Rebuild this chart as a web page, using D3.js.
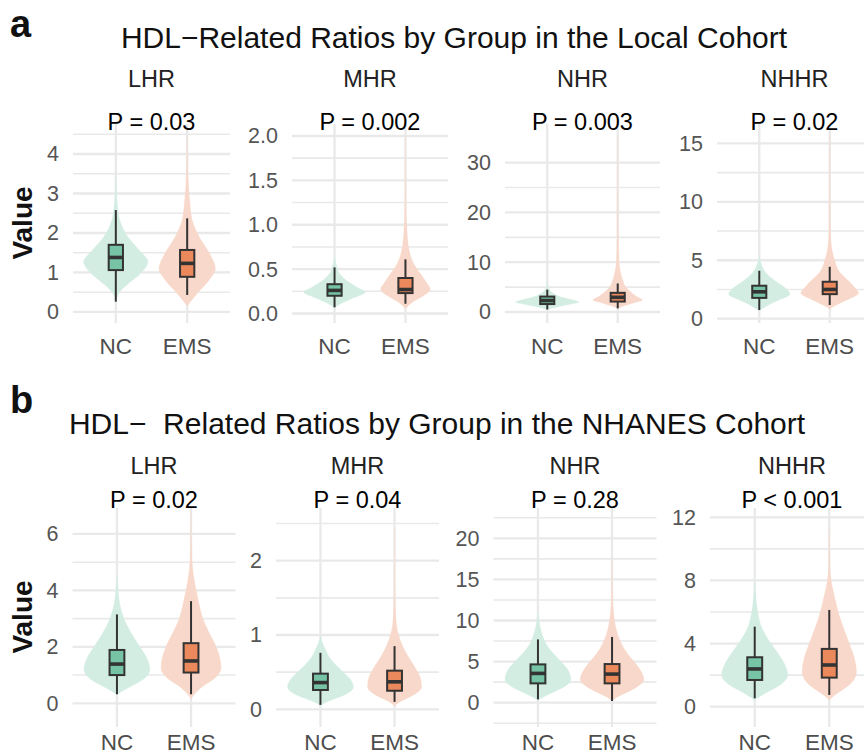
<!DOCTYPE html>
<html>
<head>
<meta charset="utf-8">
<script src="https://cdn.jsdelivr.net/npm/d3@7"></script>
<style>
  body { margin: 0; background: #fff; }
  svg { font-family: "Liberation Sans", Arial, Helvetica, sans-serif; }
</style>
</head>
<body>
<svg id="chart" width="864" height="756"></svg>
<script>
'use strict';

// ---- data ----
const groups = ['NC', 'EMS'];
const ratios = ['LHR', 'MHR', 'NHR', 'NHHR'];
const cohortLetters = ['a', 'b'];
const cohortTitles = [
    'HDL\u2212Related Ratios by Group in the Local Cohort',
    'HDL\u2212  Related Ratios by Group in the NHANES Cohort'
];
const pLabelsLocal = ['P = 0.03', 'P = 0.002', 'P = 0.003', 'P = 0.02'];
const pLabelsNhanes = ['P = 0.02', 'P = 0.04', 'P = 0.28', 'P < 0.001'];

// free y limits of each panel
const yLimitsLocal = [[-0.28, 4.76], [-0.107, 2.135], [-2.21, 37.77], [-0.37, 16.66]];
const yLimitsNhanes = [[-0.84, 6.92], [-0.238, 2.709], [-2.96, 23.69], [-1.29, 12.59]];

const yTicksLocal = [[0, 1, 2, 3, 4], [0, 0.5, 1, 1.5, 2], [0, 10, 20, 30], [0, 5, 10, 15]];
const yTickLabelsLocal = [['0', '1', '2', '3', '4'], ['0.0', '0.5', '1.0', '1.5', '2.0'],
                          ['0', '10', '20', '30'], ['0', '5', '10', '15']];
const yMinorLocal = [[0.5, 1.5, 2.5, 3.5, 4.5], [0.25, 0.75, 1.25, 1.75], [5, 15, 25], [2.5, 7.5, 12.5]];

const yTicksNhanes = [[0, 2, 4, 6], [0, 1, 2], [0, 5, 10, 15, 20], [0, 4, 8, 12]];
const yTickLabelsNhanes = [['0', '2', '4', '6'], ['0', '1', '2'],
                           ['0', '5', '10', '15', '20'], ['0', '4', '8', '12']];
const yMinorNhanes = [[1, 3, 5], [0.5, 1.5, 2.5], [-2.5, 2.5, 7.5, 12.5, 17.5, 22.5], [2, 6, 10]];

// boxes: [lower whisker, q1, median, q3, upper whisker], NC then EMS
const boxesLocal = [
    [[0.26, 1.06, 1.38, 1.70, 2.58], [0.43, 0.89, 1.23, 1.57, 2.37]],
    [[0.07, 0.20, 0.26, 0.33, 0.52], [0.11, 0.23, 0.27, 0.40, 0.61]],
    [[0.5, 1.6, 2.3, 3.1, 4.5], [0.73, 2.1, 2.95, 3.85, 5.73]],
    [[0.74, 1.78, 2.3, 2.82, 4.1], [1.17, 2.1, 2.5, 3.16, 4.44]]
];
const boxesNhanes = [
    [[0.32, 1.0, 1.39, 1.89, 3.15], [0.32, 1.09, 1.5, 2.13, 3.62]],
    [[0.06, 0.26, 0.36, 0.48, 0.76], [0.1, 0.25, 0.37, 0.52, 0.85]],
    [[0.4, 2.35, 3.56, 4.66, 7.7], [0.2, 2.35, 3.48, 4.7, 8.0]],
    [[0.53, 1.69, 2.39, 3.13, 5.07], [0.74, 1.84, 2.64, 3.66, 6.13]]
];

// violin outlines: [value, width as share of the category step], NC then EMS
const violinsLocal = [
    [[[3.5, 0], [3.0, 0.02], [2.75, 0.04], [2.33, 0.11], [1.9, 0.34], [1.57, 0.65], [1.27, 0.9],
      [0.98, 0.7], [0.73, 0.37], [0.47, 0.08], [0.26, 0]],
     [[4.45, 0], [3.5, 0.02], [2.84, 0.07], [2.33, 0.14], [1.9, 0.34], [1.49, 0.62], [1.1, 0.79],
      [0.81, 0.62], [0.47, 0.28], [0.22, 0.06], [0.15, 0]]],
    [[[0.64, 0], [0.55, 0.05], [0.45, 0.14], [0.38, 0.31], [0.3, 0.62], [0.24, 0.87], [0.18, 0.56],
      [0.12, 0.23], [0.07, 0.03], [0.05, 0]],
     [[2.0, 0], [1.2, 0.015], [0.9, 0.05], [0.7, 0.11], [0.55, 0.25], [0.45, 0.42], [0.35, 0.59],
      [0.27, 0.7], [0.2, 0.51], [0.14, 0.25], [0.08, 0.06], [0.05, 0]]],
    [[[6, 0], [5, 0.03], [4.3, 0.08], [3.5, 0.23], [3, 0.39], [2.5, 0.68], [2, 0.9], [1.5, 0.62],
      [1.1, 0.34], [0.7, 0.11], [0.5, 0]],
     [[35, 0], [15, 0.015], [10, 0.04], [8, 0.08], [6.5, 0.14], [5, 0.23], [4, 0.37], [3, 0.56],
      [2.4, 0.7], [1.8, 0.45], [1.2, 0.17], [0.7, 0]]],
    [[[5.3, 0], [4.5, 0.08], [4, 0.17], [3.5, 0.34], [3, 0.56], [2.5, 0.79], [2.1, 0.87], [1.6, 0.56],
      [1.2, 0.28], [0.8, 0.06], [0.7, 0]],
     [[16, 0], [8, 0.015], [6, 0.06], [5, 0.14], [4, 0.28], [3.3, 0.51], [2.7, 0.7], [2.2, 0.82],
      [1.7, 0.56], [1.3, 0.28], [1.0, 0.08], [0.8, 0]]]
];
const violinsNhanes = [
    [[[4.5, 0], [4, 0.03], [3.5, 0.08], [3, 0.19], [2.5, 0.38], [2, 0.62], [1.6, 0.81], [1.2, 0.89],
      [0.9, 0.76], [0.6, 0.38], [0.4, 0.11], [0.3, 0]],
     [[6.8, 0], [5.5, 0.015], [4.7, 0.05], [4, 0.14], [3.5, 0.22], [3, 0.32], [2.5, 0.49], [2, 0.68],
      [1.6, 0.78], [1.24, 0.81], [0.9, 0.65], [0.6, 0.32], [0.3, 0.08], [0.15, 0]]],
    [[[1.0, 0], [0.9, 0.05], [0.8, 0.14], [0.7, 0.24], [0.6, 0.41], [0.5, 0.62], [0.4, 0.81], [0.3, 0.89],
      [0.2, 0.68], [0.12, 0.27], [0.06, 0.03], [0.04, 0]],
     [[2.45, 0], [1.6, 0.01], [1.2, 0.04], [1.0, 0.11], [0.85, 0.22], [0.7, 0.38], [0.55, 0.57],
      [0.42, 0.7], [0.3, 0.73], [0.2, 0.54], [0.12, 0.22], [0.06, 0.03], [0.04, 0]]],
    [[[11, 0], [10, 0.03], [9, 0.07], [8, 0.14], [7, 0.24], [6, 0.41], [5, 0.62], [4, 0.81], [2.8, 0.89],
      [2, 0.73], [1.2, 0.38], [0.6, 0.11], [0.3, 0]],
     [[17.7, 0], [13, 0.015], [11, 0.04], [9, 0.11], [7.5, 0.22], [6, 0.41], [5, 0.59], [4, 0.76],
      [2.8, 0.86], [2, 0.7], [1.2, 0.38], [0.6, 0.11], [0.2, 0]]],
    [[[8, 0], [7, 0.03], [6, 0.08], [5, 0.19], [4.2, 0.38], [3.5, 0.59], [2.8, 0.78], [2, 0.89],
      [1.4, 0.7], [0.9, 0.32], [0.5, 0.05], [0.4, 0]],
     [[11.2, 0], [9, 0.015], [8, 0.05], [7, 0.14], [6, 0.24], [5, 0.38], [4, 0.54], [3, 0.68],
      [2.2, 0.73], [1.5, 0.59], [1, 0.32], [0.6, 0.08], [0.4, 0]]]
];

// ---- look ----
const violinFill = ['#d4ede3', '#f8d8ca'];
const boxFill = ['#76c4a5', '#eb895d'];
const ink = '#333333';
const gridCol = '#e9e9e9';

const rows = [
    {top: 124, bottom: 323,
     xs: [[73, 230], [292, 448], [505, 660], [717, 872]],
     letterY: 37, titleX: 454, titleY: 48, stripY: 87, pY: 130, catY: 354, valueY: 223,
     limits: yLimitsLocal, ticks: yTicksLocal, tickLabels: yTickLabelsLocal, minor: yMinorLocal,
     boxes: boxesLocal, violins: violinsLocal, pLabels: pLabelsLocal},
    {top: 508, bottom: 727,
     xs: [[72.5, 235.5], [276, 439], [493.5, 656.5], [710, 874]],
     letterY: 413, titleX: 437, titleY: 434, stripY: 474, pY: 508, catY: 750, valueY: 617,
     limits: yLimitsNhanes, ticks: yTicksNhanes, tickLabels: yTickLabelsNhanes, minor: yMinorNhanes,
     boxes: boxesNhanes, violins: violinsNhanes, pLabels: pLabelsNhanes}
];

const svg = d3.select('#chart');

rows.forEach(function(row, r) {
    const g = svg.append('g');

    // panel letter and title
    g.append('text')
        .attr('x', 10).attr('y', row.letterY)
        .attr('font-size', 38).attr('font-weight', 'bold').attr('fill', '#111')
        .text(cohortLetters[r]);
    g.append('text')
        .attr('x', row.titleX).attr('y', row.titleY)
        .attr('text-anchor', 'middle').attr('font-size', 30).attr('fill', '#111')
        .attr('xml:space', 'preserve').style('white-space', 'pre')
        .text(cohortTitles[r]);

    // y title
    g.append('text')
        .attr('transform', 'translate(32,' + row.valueY + ') rotate(-90)')
        .attr('text-anchor', 'middle').attr('font-size', 28).attr('font-weight', 'bold').attr('fill', '#111')
        .text('Value');

    ratios.forEach(function(ratio, k) {
        const x0 = row.xs[k][0], x1 = row.xs[k][1];
        const x = d3.scalePoint().domain(groups).range([x0, x1]).padding(0.6);
        const y = d3.scaleLinear().domain(row.limits[k]).range([row.bottom, row.top]);
        const half = x.step() / 2;
        const bw = x.step() * 0.2;
        const p = g.append('g');

        // grid
        p.selectAll('.minor').data(row.minor[k]).enter().append('line')
            .attr('x1', x0).attr('x2', x1)
            .attr('y1', d => y(d)).attr('y2', d => y(d))
            .attr('stroke', gridCol).attr('stroke-width', 1.6);
        p.selectAll('.major').data(row.ticks[k]).enter().append('line')
            .attr('x1', x0).attr('x2', x1)
            .attr('y1', d => y(d)).attr('y2', d => y(d))
            .attr('stroke', gridCol).attr('stroke-width', 2.3);
        p.selectAll('.vgrid').data(groups).enter().append('line')
            .attr('x1', d => x(d)).attr('x2', d => x(d))
            .attr('y1', row.top).attr('y2', row.bottom)
            .attr('stroke', gridCol).attr('stroke-width', 2.3);

        // y axis labels
        const axis = d3.axisLeft(y)
            .tickValues(row.ticks[k])
            .tickFormat((d, i) => row.tickLabels[k][i])
            .tickSize(0).tickPadding(14);
        const ag = p.append('g').attr('transform', 'translate(' + x0 + ',0)').call(axis);
        ag.select('.domain').remove();
        ag.selectAll('text')
            .attr('font-size', 21.5).attr('fill', '#555')
            .attr('font-family', '"Liberation Sans", Arial, sans-serif');

        // category labels
        p.selectAll('.cat').data(groups).enter().append('text')
            .attr('x', d => x(d)).attr('y', row.catY)
            .attr('text-anchor', 'middle').attr('font-size', 22.5).attr('fill', '#4d4d4d')
            .text(d => d);

        // violins
        groups.forEach(function(grp, j) {
            const cx = x(grp);
            const area = d3.area()
                .curve(d3.curveMonotoneY)
                .y(d => y(d[0]))
                .x0(d => cx - d[1] * half)
                .x1(d => cx + d[1] * half);
            p.append('path')
                .datum(row.violins[k][j])
                .attr('d', area)
                .attr('fill', violinFill[j])
                .attr('stroke', violinFill[j]).attr('stroke-width', 0.3);
        });

        // boxes
        groups.forEach(function(grp, j) {
            const cx = x(grp);
            const b = row.boxes[k][j];
            p.append('line')
                .attr('x1', cx).attr('x2', cx).attr('y1', y(b[0])).attr('y2', y(b[1]))
                .attr('stroke', ink).attr('stroke-width', 2);
            p.append('line')
                .attr('x1', cx).attr('x2', cx).attr('y1', y(b[3])).attr('y2', y(b[4]))
                .attr('stroke', ink).attr('stroke-width', 2);
            p.append('rect')
                .attr('x', cx - bw / 2).attr('width', bw)
                .attr('y', y(b[3])).attr('height', y(b[1]) - y(b[3]))
                .attr('fill', boxFill[j]).attr('stroke', ink).attr('stroke-width', 2);
            p.append('line')
                .attr('x1', cx - bw / 2).attr('x2', cx + bw / 2)
                .attr('y1', y(b[2])).attr('y2', y(b[2]))
                .attr('stroke', ink).attr('stroke-width', 3.6);
        });

        // strip label and p value
        const mid = (x0 + x1) / 2;
        p.append('text')
            .attr('x', mid).attr('y', row.stripY)
            .attr('text-anchor', 'middle').attr('font-size', 23.5).attr('fill', '#222')
            .text(ratio);
        p.append('text')
            .attr('x', mid).attr('y', row.pY)
            .attr('text-anchor', 'middle').attr('font-size', 23.5).attr('fill', '#000')
            .text(row.pLabels[k]);
    });
});
</script>
</body>
</html>
